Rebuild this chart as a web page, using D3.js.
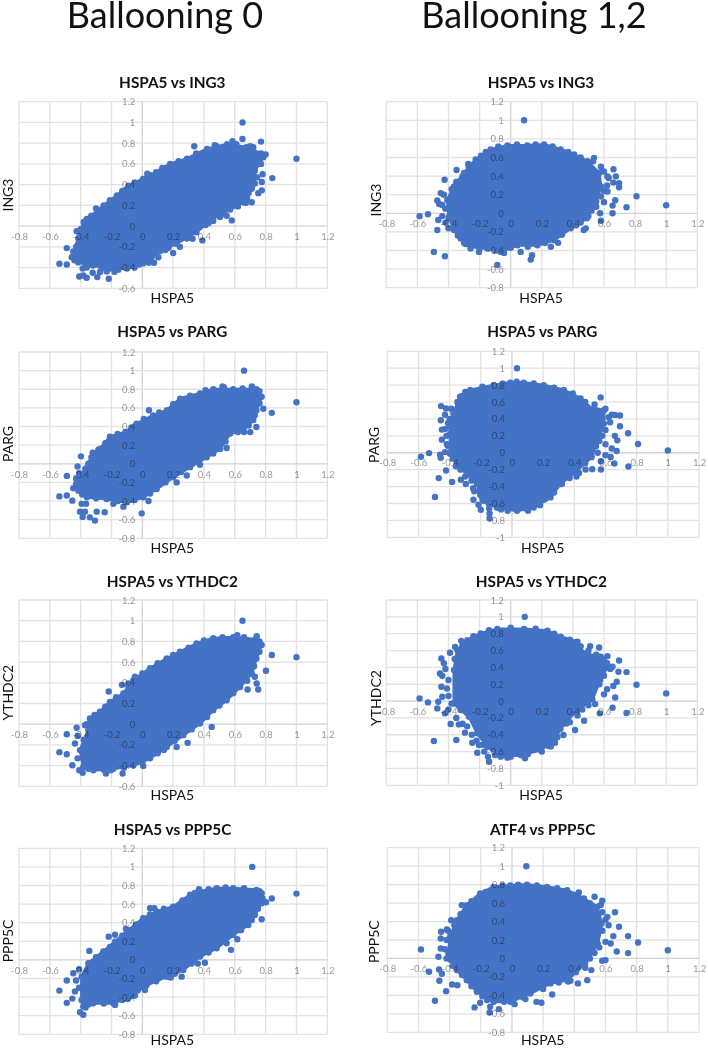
<!DOCTYPE html>
<html>
<head>
<meta charset="utf-8">
<script src="https://d3js.org/d3.v7.min.js"></script>
<style>
  body { margin: 0; background: #fff; }
  svg { display: block; font-family: Lato, sans-serif; filter: blur(0.35px); }
</style>
</head>
<body>
<div id="chart"></div>
<script>
//axis tick values
const xTicks = [-0.8, -0.6, -0.4, -0.2, 0, 0.2, 0.4, 0.6, 0.8, 1, 1.2]
const yTicks06 = [-0.6, -0.4, -0.2, 0, 0.2, 0.4, 0.6, 0.8, 1, 1.2]
const yTicks08 = [-0.8, -0.6, -0.4, -0.2, 0, 0.2, 0.4, 0.6, 0.8, 1, 1.2]
const yTicks10 = [-1, -0.8, -0.6, -0.4, -0.2, 0, 0.2, 0.4, 0.6, 0.8, 1, 1.2]

//column headings and titles
const headings = ['Ballooning 0', 'Ballooning 1,2']
const titles = ['HSPA5 vs ING3', 'HSPA5 vs ING3', 'HSPA5 vs PARG', 'HSPA5 vs PARG', 'HSPA5 vs YTHDC2', 'HSPA5 vs YTHDC2', 'HSPA5 vs PPP5C', 'ATF4 vs PPP5C']
const xNames = ['HSPA5', 'HSPA5', 'HSPA5', 'HSPA5', 'HSPA5', 'HSPA5', 'HSPA5', 'HSPA5']
const yNames = ['ING3', 'ING3', 'PARG', 'PARG', 'YTHDC2', 'YTHDC2', 'PPP5C', 'PPP5C']

//edge of the solid mass of points, [x, y]
const massIng3B0 = [[-.458,-.30],[-.415,-.12],[-.38,.04],[-.33,.10],[-.25,.20],[-.165,.295],[-.09,.39],[.005,.455],[.09,.52],[.18,.60],[.29,.65],[.42,.745],[.55,.79],[.675,.76],[.77,.70],[.785,.665],[.73,.535],[.73,.41],[.69,.32],[.655,.23],[.57,.16],[.46,.08],[.35,-.06],[.22,-.17],[.115,-.24],[.005,-.36],[-.10,-.41],[-.21,-.41],[-.32,-.38],[-.415,-.35]]
const massIng3B12 = [[-.365,-.18],[-.397,-.036],[-.408,.144],[-.365,.29],[-.30,.433],[-.225,.578],[-.129,.686],[-.021,.73],[.107,.73],[.215,.74],[.322,.686],[.408,.632],[.494,.56],[.569,.433],[.58,.289],[.55,.126],[.49,-.054],[.386,-.162],[.279,-.289],[.172,-.343],[.043,-.343],[-.064,-.415],[-.15,-.379],[-.258,-.361],[-.322,-.27]]
const massPargB0 = [[-.42,-.18],[-.37,-.054],[-.33,.07],[-.275,.16],[-.21,.29],[-.11,.34],[-.037,.43],[.07,.52],[.16,.575],[.245,.70],[.374,.755],[.46,.80],[.59,.80],[.74,.80],[.774,.72],[.74,.575],[.72,.47],[.655,.36],[.57,.325],[.504,.16],[.417,.07],[.31,-.036],[.2,-.144],[.093,-.27],[.006,-.36],[-.10,-.414],[-.23,-.378],[-.36,-.36],[-.415,-.29]]
const massPargB12 = [[-.397,-.012],[-.397,.226],[-.376,.464],[-.333,.663],[-.268,.742],[-.118,.80],[-.011,.83],[.075,.83],[.204,.80],[.333,.742],[.44,.643],[.483,.544],[.59,.504],[.59,.345],[.55,.147],[.51,-.052],[.418,-.21],[.311,-.369],[.247,-.528],[.139,-.647],[.032,-.687],[-.097,-.647],[-.182,-.567],[-.225,-.369],[-.29,-.25],[-.354,-.131]]
const massYthdc2B0 = [[-.404,-.25],[-.35,-.058],[-.34,.055],[-.275,.12],[-.21,.216],[-.123,.297],[-.058,.426],[.05,.54],[.158,.635],[.244,.70],[.352,.78],[.46,.83],[.59,.84],[.74,.82],[.774,.765],[.74,.635],[.71,.49],[.634,.36],[.547,.232],[.46,.135],[.374,.006],[.266,-.106],[.158,-.22],[.05,-.33],[-.058,-.40],[-.188,-.43],[-.318,-.445],[-.383,-.413]]
const massYthdc2B12 = [[-.365,-.028],[-.365,.368],[-.343,.605],[-.279,.723],[-.193,.802],[-.086,.855],[.086,.855],[.236,.835],[.322,.763],[.429,.704],[.472,.565],[.579,.526],[.622,.407],[.575,.249],[.525,.02],[.429,-.107],[.343,-.265],[.279,-.462],[.193,-.581],[.064,-.64],[-.064,-.66],[-.15,-.542],[-.215,-.383],[-.268,-.186],[-.322,-.107]]
const massPpp5cB0 = [[-.394,-.43],[-.394,-.18],[-.35,-.036],[-.253,.09],[-.177,.197],[-.09,.32],[.006,.448],[.093,.52],[.2,.573],[.31,.70],[.374,.735],[.482,.77],[.59,.77],[.74,.753],[.774,.717],[.774,.61],[.73,.484],[.688,.376],[.59,.27],[.482,.125],[.374,.036],[.266,-.108],[.158,-.18],[.028,-.27],[-.08,-.394],[-.188,-.466],[-.318,-.466],[-.383,-.50]]
const massPpp5cB12 = [[-.408,.054],[-.397,.235],[-.354,.415],[-.29,.578],[-.204,.704],[-.118,.776],[-.011,.79],[.097,.80],[.225,.776],[.354,.74],[.461,.65],[.547,.56],[.575,.38],[.55,.16],[.47,-.05],[.354,-.235],[.247,-.27],[.118,-.379],[-.011,-.469],[-.118,-.469],[-.225,-.361],[-.29,-.235],[-.354,-.126]]

//points crowding the rim of the mass, [x, y]
const rimIng3B0 = [[-.43,-.20],[-.40,-.03],[-.36,.07],[-.29,.15],[-.21,.25],[-.13,.34],[-.05,.42],[.05,.49],[.13,.56],[.235,.625],[.35,.70],[.48,.77],[.61,.79],[.72,.76],[.80,.69],[.77,.60],[.745,.47],[.71,.36],[.68,.27],[.62,.19],[.52,.12],[.41,.01],[.29,-.12],[.17,-.21],[.06,-.30],[-.05,-.40],[-.155,-.42],[-.265,-.41],[-.37,-.38],[-.44,-.33],[-.30,.17],[.12,.53],[.47,.78],[.70,.77],[.78,.50],[.62,.24],[.43,.03],[.30,-.09],[.15,-.23],[-.02,-.37],[-.18,-.44],[-.36,-.40]]
const rimIng3B12 = [[-.46,.1],[-.43,.2],[-.42,.05],[-.44,-.03],[-.42,-.1],[-.40,-.16],[-.38,.26],[-.35,.34],[-.31,.40],[-.27,.50],[-.19,.62],[-.16,.66],[-.08,.72],[.04,.74],[.16,.74],[.27,.72],[.37,.66],[.45,.60],[.53,.56],[.58,.50],[.60,.45],[.63,.38],[.62,.30],[.60,.24],[.66,.33],[.58,.18],[.60,.12],[.55,.07],[.52,.03],[.50,-.03],[.45,-.10],[.42,-.13],[.33,-.23],[.22,-.32],[.11,-.36],[0,-.37],[-.10,-.40],[-.20,-.38],[-.29,-.33],[-.34,-.24],[-.40,-.05],[.47,-.18]]
const rimPargB0 = [[-.43,-.24],[-.41,-.1],[-.35,0],[-.3,.11],[-.24,.22],[-.16,.32],[-.07,.39],[.01,.48],[.11,.55],[.2,.64],[.31,.73],[.41,.79],[.53,.82],[.65,.81],[.76,.78],[.76,.65],[.73,.52],[.69,.41],[.62,.34],[.54,.24],[.46,.11],[.36,.02],[.25,-.09],[.15,-.2],[.05,-.32],[-.05,-.39],[-.16,-.4],[-.3,-.37],[-.39,-.33],[-.43,-.22]]
const rimPargB12 = [[-.43,.45],[-.41,.35],[-.43,.28],[-.40,.4],[-.42,.2],[-.41,.08],[-.40,0],[-.38,-.07],[-.36,-.16],[-.33,-.2],[-.30,-.28],[-.26,-.33],[-.25,-.42],[-.21,-.45],[-.19,-.55],[-.15,-.6],[-.07,-.67],[.09,-.66],[.18,-.62],[.21,-.55],[.27,-.47],[.32,-.37],[.37,-.3],[.43,-.24],[.47,-.12],[.51,-.04],[.54,.08],[.56,.14],[.58,.2],[.60,.27],[.63,.36],[.62,.42],[.64,.45],[.60,.52],[.53,.57],[.47,.6],[.39,.7],[.27,.77],[.14,.82],[.03,.84],[-.06,.82],[-.19,.78],[-.3,.72],[-.35,.6],[-.39,.52],[-.40,.3],[.66,.2],[.6,.1],[.64,.05],[.55,0],[.57,-.1]]
const rimYthdc2B0 = [[-.42,-.33],[-.38,-.15],[-.36,0],[-.31,.09],[-.24,.17],[-.17,.26],[-.09,.36],[0,.49],[.1,.59],[.2,.67],[.3,.74],[.4,.81],[.52,.84],[.66,.84],[.76,.8],[.76,.7],[.725,.56],[.68,.42],[.59,.3],[.5,.18],[.42,.07],[.32,-.05],[.21,-.16],[.1,-.28],[0,-.37],[-.12,-.42],[-.25,-.44],[-.35,-.43]]
const rimYthdc2B12 = [[-.43,.45],[-.42,.38],[-.44,.3],[-.40,.25],[-.41,.15],[-.40,.06],[-.38,-.03],[-.40,-.1],[-.35,-.2],[-.31,-.27],[-.28,-.3],[-.25,-.4],[-.22,-.47],[-.18,-.52],[-.17,-.6],[-.1,-.64],[0,-.66],[.11,-.63],[.2,-.6],[.24,-.53],[.3,-.43],[.32,-.33],[.38,-.25],[.43,-.17],[.46,-.1],[.5,-.05],[.51,.05],[.53,.16],[.56,.22],[.6,.3],[.64,.38],[.62,.45],[.6,.5],[.55,.55],[.5,.6],[.45,.65],[.38,.73],[.28,.8],[.16,.86],[0,.87],[-.14,.84],[-.24,.77],[-.31,.66],[-.36,.5],[.66,.18],[.62,.14],[.6,.08],[.57,.2],[.5,0]]
const rimPpp5cB0 = [[-.41,-.3],[-.41,-.1],[-.3,.03],[-.21,.14],[-.13,.26],[-.04,.38],[.05,.49],[.14,.55],[.26,.64],[.34,.72],[.43,.76],[.54,.78],[.66,.77],[.76,.74],[.78,.66],[.75,.55],[.71,.43],[.64,.32],[.54,.2],[.43,.08],[.32,-.04],[.21,-.15],[.09,-.23],[-.03,-.33],[-.13,-.43],[-.25,-.47],[-.35,-.48]]
const rimPpp5cB12 = [[-.43,.1],[-.42,0],[-.42,.2],[-.41,.3],[-.37,.36],[-.33,.48],[-.26,.62],[-.17,.72],[-.06,.79],[.04,.8],[.16,.79],[.29,.76],[.41,.69],[.5,.6],[.57,.58],[.58,.5],[.53,.46],[.6,.42],[.62,.36],[.58,.3],[.55,.26],[.6,.18],[.56,.12],[.53,.06],[.5,0],[.47,-.1],[.41,-.15],[.36,-.25],[.3,-.26],[.2,-.33],[.07,-.42],[-.05,-.47],[-.16,-.45],[-.19,-.41],[-.26,-.3],[-.32,-.18],[-.38,-.08],[-.39,-.02]]

//points standing clear of the mass, [x, y]
const pointsIng3B0 = [[.65,1],[1,.65],[.337,.77],[.77,.815],[.65,.84],[.585,.82],[.843,.463],[.775,.345],[.752,.318],[.71,.23],[.672,.225],[.775,.425],[.58,.055],[.547,.10],[.504,.087],[.46,.05],[.39,-.138],[.326,-.122],[.244,-.128],[.2,-.26],[.244,-.20],[.104,-.30],[.076,-.354],[.043,-.354],[.06,-.283],[-.067,-.38],[-.218,-.508],[-.292,-.492],[-.275,-.444],[-.322,-.45],[-.29,-.363],[-.361,-.498],[-.383,-.476],[-.409,-.486],[-.387,-.41],[-.231,-.437],[-.49,-.37],[-.538,-.363],[-.49,-.212],[-.448,-.244],[-.426,-.05],[-.378,.03],[-.335,.087],[.032,.505]]
const pointsIng3B12 = [[.086,1],[1,.087],[.809,.184],[.745,.065],[.655,0],[.655,.083],[.672,.14],[.697,.28],[.697,.325],[.676,.397],[.661,.473],[.575,0],[.58,-.08],[.483,-.162],[.305,-.318],[.258,-.36],[.129,-.498],[.137,-.45],[.064,-.415],[-.086,-.556],[-.043,-.426],[-.423,-.462],[-.494,-.415],[-.472,-.18],[-.466,-.072],[-.532,-.011],[-.586,-.032],[-.472,.137],[-.44,.09],[-.45,.217],[-.425,.361],[-.348,.466],[-.273,.53],[-.30,-.318],[-.258,-.379],[-.204,-.415],[.622,.235],[.622,.397],[.536,.596]]
const pointsPargB0 = [[.66,1],[1,.66],[.043,.575],[.84,.547],[.785,.59],[.74,.395],[.70,.34],[.66,.34],[.547,.17],[.374,-.01],[.223,-.2],[-.004,-.532],[.04,-.40],[-.123,-.46],[-.188,-.43],[-.244,-.52],[-.296,-.514],[-.307,-.61],[-.34,-.575],[-.387,-.57],[-.404,-.514],[-.372,-.514],[-.394,-.43],[-.365,-.43],[-.454,-.396],[-.49,-.34],[-.538,-.35],[-.448,-.263],[-.49,-.13],[-.43,-.16],[-.42,-.03],[-.398,.08],[-.322,.12],[-.285,.15],[.288,-.126],[.52,.83],[.71,.83]]
const pointsPargB12 = [[.032,1],[1,.028],[.809,.103],[.745,.23],[.747,-.163],[.693,.313],[.693,.44],[.661,.448],[.676,.147],[.672,.02],[.657,-.127],[.571,-.198],[.569,.655],[.515,-.194],[.414,-.282],[.472,-.198],[.633,-.05],[.60,-.03],[-.584,-.048],[-.532,-.004],[-.461,-.024],[-.457,-.06],[-.423,-.21],[-.47,-.30],[-.384,-.345],[-.494,-.524],[-.328,-.32],[-.296,-.37],[-.242,-.456],[-.247,-.556],[-.204,-.50],[-.215,-.615],[-.2,-.675],[-.146,-.659],[-.144,-.774],[-.144,-.718],[-.092,-.647],[-.028,-.687],[.103,-.687],[-.455,.552],[-.45,.274],[-.457,.385],[-.45,.155],[-.322,.67],[-.423,.524],[-.418,.10],[-.43,.008]]
const pointsYthdc2B0 = [[.65,1],[1,.648],[.84,.668],[.802,.516],[.752,.335],[.742,.394],[.683,.335],[.45,-.026],[.294,-.18],[.223,-.22],[.14,-.25],[.006,-.403],[-.128,-.477],[-.236,-.477],[-.205,-.445],[-.387,-.47],[-.409,-.445],[-.454,-.397],[-.49,-.29],[-.538,-.27],[-.437,-.187],[-.42,-.113],[-.49,-.097],[-.426,-.035],[-.372,-.01],[-.218,.316],[-.132,.38],[-.09,.394],[-.048,.458],[.73,.458],[.742,.85],[.616,.86]]
const pointsYthdc2B12 = [[.09,1],[1,.091],[.809,.194],[.745,.344],[.745,-.142],[.697,.482],[.693,.348],[.682,.229],[.672,.043],[.655,-.079],[.573,-.146],[.543,-.036],[.472,-.233],[.414,-.344],[.358,-.265],[.339,-.403],[.285,-.494],[.258,-.54],[.092,-.68],[-.021,-.672],[-.139,-.72],[-.146,-.66],[-.215,-.613],[-.247,-.494],[-.204,-.522],[-.294,-.375],[-.35,-.462],[-.494,-.474],[-.386,-.273],[-.333,-.277],[-.423,-.146],[-.472,-.087],[-.532,-.016],[-.586,.032],[-.466,-.008],[-.44,.051],[-.446,.17],[-.455,.328],[-.446,.506],[-.39,.573],[-.358,.644],[-.318,.715],[.511,.652],[.569,.636],[.622,.534],[.655,.407]]
const pointsPpp5cB0 = [[.713,1],[1,.713],[.84,.66],[.802,.62],[.774,.437],[.616,.222],[.575,.108],[.547,.18],[.406,-.03],[.36,-.04],[.255,-.18],[.184,-.19],[.017,-.323],[-.048,-.384],[-.095,-.42],[-.177,-.484],[-.383,-.59],[-.404,-.563],[-.368,-.513],[-.454,-.416],[-.49,-.462],[-.538,-.33],[-.49,-.222],[-.448,-.143],[-.43,-.222],[-.437,-.34],[-.344,.097],[-.218,.25],[-.177,.27],[-.106,.333],[.05,.555],[.078,.555],[.368,.76]]
const pointsPpp5cB12 = [[.092,1],[1,.09],[.809,.173],[.745,.058],[.745,.242],[.672,.076],[.687,.343],[.661,.502],[.65,.242],[.633,.162],[.579,-.025],[.60,-.018],[.509,-.126],[.483,-.235],[.423,-.27],[.375,-.242],[.258,-.39],[.189,-.48],[.086,-.44],[.157,-.47],[.017,-.495],[-.084,-.549],[-.144,-.585],[-.14,-.523],[-.204,-.48],[-.24,-.53],[-.494,-.458],[-.423,-.354],[-.384,-.282],[-.35,-.289],[-.466,-.242],[-.45,-.166],[-.468,-.119],[-.532,-.144],[-.584,.097],[-.472,.018],[-.457,.108],[-.457,.217],[-.455,.289],[-.418,.314],[-.39,.415],[-.322,.578],[.53,.668],[.579,.625],[.429,.715],[.612,.451]]

//pair up the panels, same order as titles
const masses = [massIng3B0, massIng3B12, massPargB0, massPargB12, massYthdc2B0, massYthdc2B12, massPpp5cB0, massPpp5cB12]
const rims = [rimIng3B0, rimIng3B12, rimPargB0, rimPargB12, rimYthdc2B0, rimYthdc2B12, rimPpp5cB0, rimPpp5cB12]
const points = [pointsIng3B0, pointsIng3B12, pointsPargB0, pointsPargB12, pointsYthdc2B0, pointsYthdc2B12, pointsPpp5cB0, pointsPpp5cB12]
const yTicks = [yTicks06, yTicks08, yTicks08, yTicks10, yTicks06, yTicks10, yTicks08, yTicks08]

//where each panel sits on the page
const layout = [
  {left: 19, right: 327.3, top: 101.7, bottom: 288.3, titleX: 172.3, titleY: 84, xNameX: 172.3, xNameY: 299.3, yNameX: 9, yNameY: 195},
  {left: 386.3, right: 697.3, top: 101.7, bottom: 287.7, titleX: 541, titleY: 84, xNameX: 541, xNameY: 299.3, yNameX: 377, yNameY: 200},
  {left: 19, right: 327.3, top: 352, bottom: 538.3, titleX: 172.3, titleY: 333.3, xNameX: 172.3, xNameY: 549, yNameX: 9, yNameY: 444},
  {left: 387.3, right: 699, top: 351.3, bottom: 537.3, titleX: 542.3, titleY: 333.3, xNameX: 542.7, xNameY: 549, yNameX: 375, yNameY: 445},
  {left: 19, right: 327.3, top: 600, bottom: 786.3, titleX: 172.3, titleY: 583.3, xNameX: 172.3, xNameY: 796.7, yNameX: 9, yNameY: 692.7},
  {left: 386.3, right: 697.3, top: 600, bottom: 785.3, titleX: 541.3, titleY: 583.3, xNameX: 541, xNameY: 796.7, yNameX: 377, yNameY: 698},
  {left: 19, right: 327.3, top: 848.3, bottom: 1034.3, titleX: 172.6, titleY: 831.3, xNameX: 172.3, xNameY: 1041, yNameX: 9, yNameY: 941},
  {left: 387.3, right: 699, top: 847.7, bottom: 1032.3, titleX: 542.7, titleY: 831.3, xNameX: 542.7, xNameY: 1041, yNameX: 375, yNameY: 941.7}
]

const blue = '#4472c4'
const dotRadius = 3.2

//append the svg object to the body of the page
const svg = d3.select('#chart')
.append('svg')
  .attr('width', 708)
  .attr('height', 1050)

//column headings
svg.selectAll('text.heading')
.data(headings)
.join('text')
  .attr('class', 'heading')
  .attr('x', (d, i) => i == 0 ? 165 : 534)
  .attr('y', 28)
  .attr('text-anchor', 'middle')
  .style('font-size', '36px')
  .style('fill', '#111')
  .text(d => d)

titles.forEach((title, i) => drawPanel(i))

//one scatter panel
function drawPanel(i)
{
  const p = layout[i]
  const yVals = yTicks[i]

  //build scales, domains come from the tick lists
  const x = d3.scaleLinear()
  .domain(d3.extent(xTicks))
  .range([p.left, p.right])
  const y = d3.scaleLinear()
  .domain(d3.extent(yVals))
  .range([p.bottom, p.top])

  const g = svg.append('g')

  //gridlines, zero lines a bit darker
  g.selectAll('line.gridx')
  .data(xTicks)
  .join('line')
    .attr('x1', d => x(d))
    .attr('x2', d => x(d))
    .attr('y1', p.top)
    .attr('y2', p.bottom)
    .style('stroke', d => d == 0 ? '#d2d2d2' : '#e2e2e2')
    .style('stroke-width', 1.3)
  g.selectAll('line.gridy')
  .data(yVals)
  .join('line')
    .attr('x1', p.left)
    .attr('x2', p.right)
    .attr('y1', d => y(d))
    .attr('y2', d => y(d))
    .style('stroke', d => d == 0 ? '#d2d2d2' : '#e2e2e2')
    .style('stroke-width', 1.3)

  //solid mass of overlapping points
  const line = d3.line()
  .x(d => x(d[0]))
  .y(d => y(d[1]))
  .curve(d3.curveLinearClosed)
  g.append('path')
    .attr('d', line(masses[i]))
    .style('fill', blue)
    .style('stroke', blue)
    .style('stroke-width', 3)
    .style('stroke-linejoin', 'round')

  //dots on the rim and the stray ones
  g.selectAll('circle')
  .data(masses[i].concat(rims[i], points[i]))
  .join('circle')
    .attr('cx', d => x(d[0]))
    .attr('cy', d => y(d[1]))
    .attr('r', dotRadius)
    .style('fill', blue)

  //tick labels sit on the zero lines
  const xAxis = g.append('g')
    .attr('transform', `translate(0, ${y(0)})`)
    .call(d3.axisBottom(x).tickValues(xTicks).tickSize(0).tickPadding(7).tickFormat(d => String(d)))
  xAxis.select('.domain').remove()
  const yAxis = g.append('g')
    .attr('transform', `translate(${x(0)}, 0)`)
    .call(d3.axisLeft(y).tickValues(yVals).tickSize(0).tickPadding(7).tickFormat(d => String(d)))
  yAxis.select('.domain').remove()
  g.selectAll('.tick text')
    .style('font-family', 'Lato, sans-serif')
    .style('font-size', '9.5px')
    .style('fill', '#9a9a9a')
    .style('mix-blend-mode', 'multiply')

  //panel title and axis names
  g.append('text')
    .attr('x', p.titleX)
    .attr('y', p.titleY)
    .attr('text-anchor', 'middle')
    .attr('dominant-baseline', 'middle')
    .style('font-size', '15.3px')
    .style('font-weight', 700)
    .style('fill', '#111')
    .text(titles[i])
  g.append('text')
    .attr('x', p.xNameX)
    .attr('y', p.xNameY)
    .attr('text-anchor', 'middle')
    .attr('dominant-baseline', 'middle')
    .style('font-size', '14px')
    .style('fill', '#111')
    .text(xNames[i])
  g.append('text')
    .attr('transform', `translate(${p.yNameX}, ${p.yNameY}) rotate(-90)`)
    .attr('text-anchor', 'middle')
    .attr('dominant-baseline', 'middle')
    .style('font-size', '14px')
    .style('fill', '#111')
    .text(yNames[i])
}
</script>
</body>
</html>
